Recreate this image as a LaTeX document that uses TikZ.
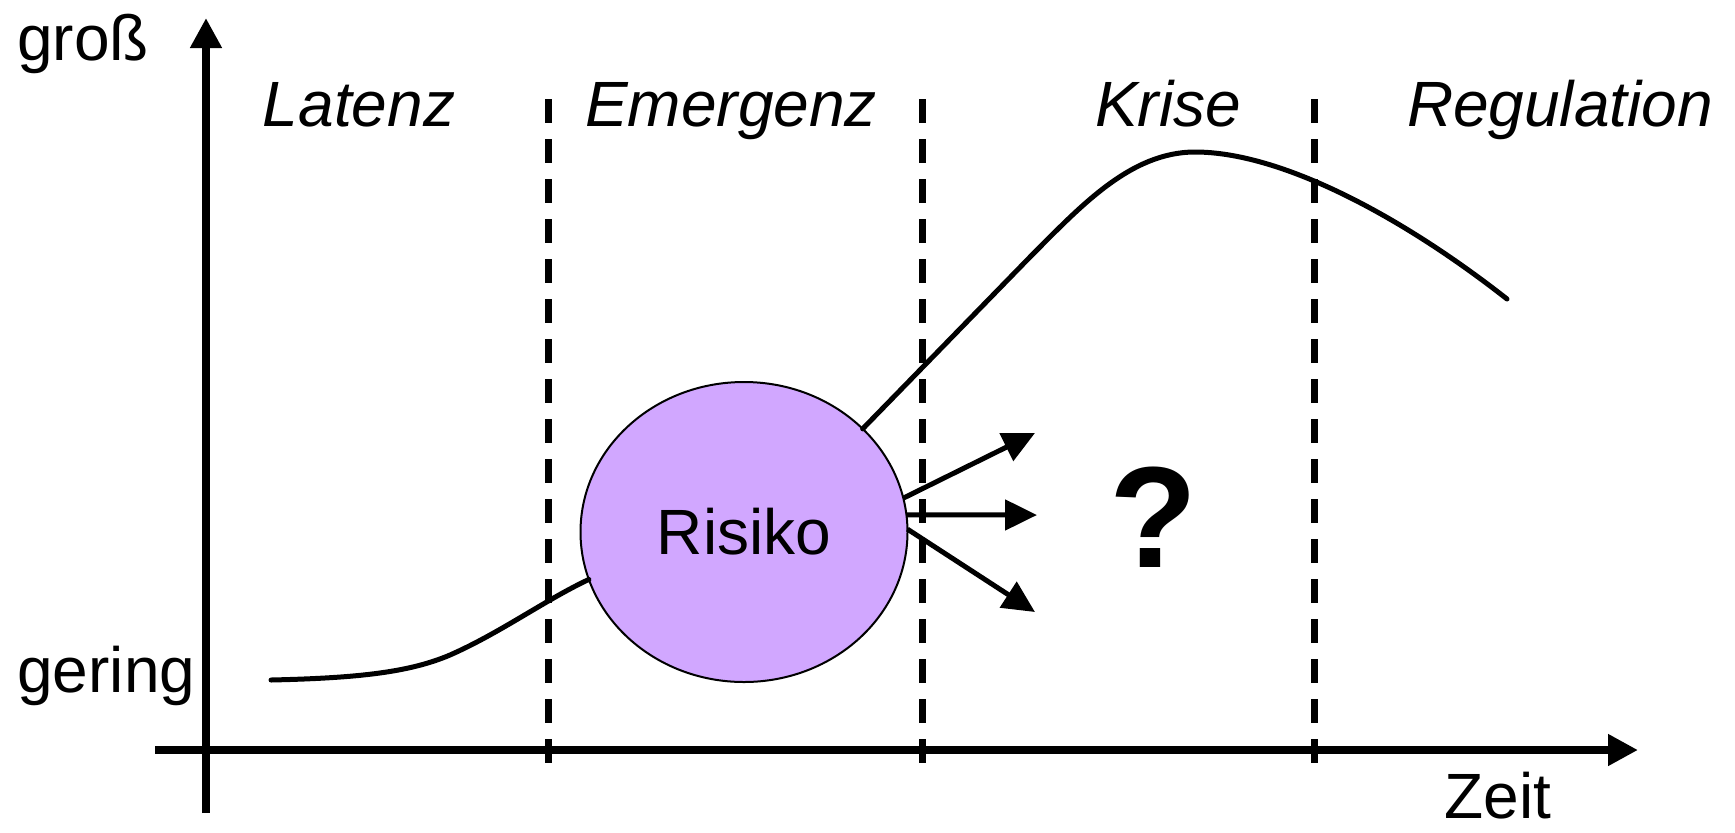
\documentclass[tikz,border=0pt]{standalone}
\usepackage{fontspec}
\setmainfont{Liberation Sans}
\usetikzlibrary{arrows.meta,shapes.geometric}
\definecolor{risikofill}{RGB}{209,167,255}
\begin{document}
\begin{tikzpicture}[x=0.5pt,y=-0.5pt,
  axisline/.style={line width=4pt,-{Triangle[length=15pt,width=15pt]}},
  phaseline/.style={line width=3.5pt,dash pattern=on 12pt off 8pt},
  curveline/.style={line width=2.5pt,line cap=round,line join=round},
  outarrow/.style={line width=2.5pt,-{Triangle[length=16pt,width=15pt]}},
  lbl/.style={font=\fontsize{32}{38}\selectfont,inner sep=0pt,anchor=base west},
  phaselbl/.style={font=\fontsize{32}{38}\selectfont\itshape,inner sep=0pt,anchor=base},
  risikonode/.style={ellipse,draw=black,line width=1pt,fill=risikofill,
    minimum width=163.5pt,minimum height=150pt,inner sep=0pt,outer sep=0pt,
    font=\fontsize{32}{38}\selectfont}
]
\useasboundingbox (0,0) rectangle (1735,832);

% axes
\coordinate (yb) at (206,813);
\coordinate (yt) at (206,18);
\coordinate (xl) at (155,750);
\coordinate (xr) at (1638,750);
\draw[axisline] (yb) -- (yt);
\draw[axisline] (xl) -- (xr);

% phase separators
\coordinate (d1t) at (548,99);  \coordinate (d1b) at (548,765);
\coordinate (d2t) at (922,99);  \coordinate (d2b) at (922,765);
\coordinate (d3t) at (1314,99); \coordinate (d3b) at (1314,765);
\draw[phaseline] (d1t) -- (d1b);
\draw[phaseline] (d2t) -- (d2b);
\draw[phaseline] (d3t) -- (d3b);

% axis labels
\node[lbl] (gross) at (17,60) {groß};
\node[lbl] (gering) at (17,692) {gering};
\node[lbl] (zeit) at (1444,818) {Zeit};

% phase labels
\node[phaselbl] (latenz) at (359,126) {Latenz};
\node[phaselbl] (emergenz) at (731,126) {Emergenz};
\node[phaselbl] (krise) at (1168,126) {Krise};
\node[phaselbl] (regulation) at (1560,126) {Regulation};

% risk circle
\node[risikonode] (risiko) at (744,532) {Risiko};

% curve
\coordinate (cs) at (271,680);
\coordinate (ce) at (1507,299);
\coordinate (peak) at (1195,152);
\draw[curveline] (cs) .. controls (360,678) and (410,672) .. (450,655)
  .. controls (500,633) and (545,600) .. (risiko.197);
\draw[curveline] (risiko.41) -- (1030,257)
  .. controls (1080,207) and (1130,152) .. (peak)
  .. controls (1280,152) and (1400,215) .. (ce);

% outgoing arrows
\coordinate (a1) at (1035,433);
\coordinate (a2) at (1037,515);
\coordinate (a3) at (1035,612);
\draw[outarrow] (risiko.12) -- (a1);
\draw[outarrow] (risiko.6) -- (a2);
\draw[outarrow] (risiko.1) -- (a3);

% question mark
\node[font=\fontsize{72}{80}\selectfont\bfseries,inner sep=0pt] (frage) at (1153,517) {?};
\end{tikzpicture}
\end{document}
